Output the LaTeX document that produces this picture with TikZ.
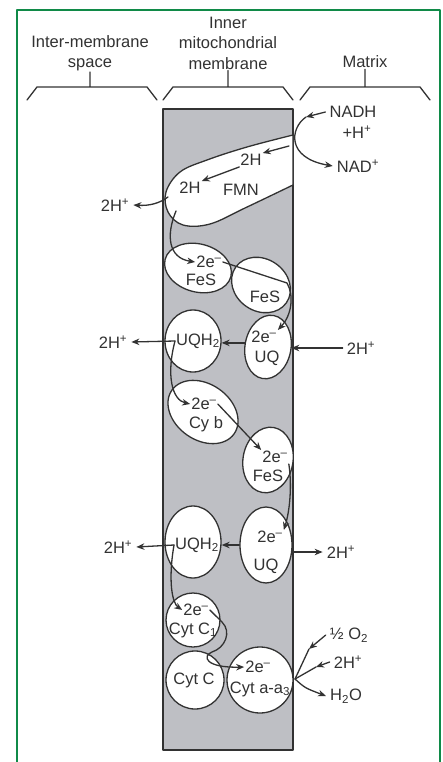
\documentclass[tikz,border=0pt]{standalone}
\usepackage{fontspec}
\setmainfont{Liberation Sans}
\usetikzlibrary{shapes.geometric,arrows.meta}
\definecolor{framegreen}{RGB}{16,138,72}
\definecolor{membgray}{RGB}{190,191,196}
\definecolor{ink}{RGB}{50,50,50}
\newcommand{\Hp}{H\textsuperscript{+}}
\newcommand{\ee}{2e\textsuperscript{--}}
\begin{document}
\begin{tikzpicture}[x=1pt,y=-1pt,>={Stealth[length=8pt,width=6.5pt]},line join=round,line cap=round,
	font=\fontsize{16.5}{20.5}\selectfont,
	every node/.style={text=ink,inner sep=1pt},
	wire/.style={draw=ink,line width=1.3pt},
	blob/.style={ellipse,draw=ink,fill=white,line width=1.3pt,inner sep=0pt},
	ion/.style={inner xsep=4pt}]
	\useasboundingbox (0,0) rectangle (442,762);
	\draw[framegreen,line width=2.2pt] (17,764) -- (17,10) -- (440,10) -- (440,764);
	% headings and brackets
	\node[align=center] (ims) at (90,53) {Inter-membrane\\space};
	\node[align=center] (imm) at (228,43) {Inner\\mitochondrial\\membrane};
	\node (mtx) at (365,62) {Matrix};
	\draw[wire] (27,100) -- (37,87) -- (147,87) -- (157,100) (ims.south |- 0,87) -- (ims.south);
	\draw[wire] (163,100) -- (173,87) -- (283,87) -- (293,100) (imm.south |- 0,87) -- (imm.south);
	\draw[wire] (300,100) -- (310,87) -- (420,87) -- (430,100) (mtx.south |- 0,87) -- (mtx.south);
	% membrane
	\filldraw[wire,fill=membgray] (163,109) rectangle (293,750);
	\filldraw[wire,fill=white] plot[smooth,tension=.6] coordinates {(293,135) (247,147) (207,160) (180,172) (166,192) (168,212) (183,225) (210,224) (245,208) (293,185)} -- cycle;
	\node[blob,minimum width=68,minimum height=48,rotate=-15] (fes1) at (198,268) {};
	\node[blob,minimum width=62,minimum height=52,rotate=-35] (fes2) at (261,285) {};
	\node[blob,minimum width=56,minimum height=62] (uqh1) at (193,341) {};
	\node[blob,minimum width=46,minimum height=64,rotate=-10] (uq1) at (268,347) {};
	\node[blob,minimum width=76,minimum height=56,rotate=-35] (cyb) at (203,412) {};
	\node[blob,minimum width=50,minimum height=66,rotate=-10] (fes3) at (268,460) {};
	\node[blob,minimum width=52,minimum height=76] (uq2) at (266,545) {};
	\node[blob,minimum width=56,minimum height=72] (uqh2) at (193,542) {};
	\node[blob,minimum size=54] (cytc1) at (193,620) {};
	\node[blob,minimum size=58] (cytc) at (195,680) {};
	\node[blob,minimum size=66] (cytaa) at (260,680) {};
	% texts
	\node (h2a) at (251,160) {2H};
	\node (h2b) at (190,188) {2H};
	\node (fmn) at (241,190) {FMN};
	\node[ion] (nadh) at (353,112) {NADH};
	\node (hp) at (357,132) {+\Hp};
	\node[ion] (nad) at (358,166) {NAD\textsuperscript{+}};
	\node[ion] (hl1) at (115,205) {2\Hp};
	\node (fes1e) at (209,262) {\ee};
	\node (fes1t) at (201,280) {FeS};
	\node (fes2t) at (265,297) {FeS};
	\node (uqh1t) at (198,341) {UQH\textsubscript{2}};
	\node (uq1e) at (264,337) {\ee};
	\node (uq1t) at (267,358) {UQ};
	\node[ion] (hl2) at (113,342) {2\Hp};
	\node[ion] (hr1) at (361,348) {2\Hp};
	\node (cybe) at (204,404) {\ee};
	\node (cybt) at (206,424) {Cy b};
	\node (fes3e) at (275,457) {\ee};
	\node (fes3t) at (268,476) {FeS};
	\node (uq2e) at (270,537) {\ee};
	\node (uq2t) at (266,566) {UQ};
	\node (uqh2t) at (197,545) {UQH\textsubscript{2}};
	\node[ion] (hl3) at (118,547) {2\Hp};
	\node[ion] (hr2) at (341,552) {2\Hp};
	\node (cytc1e) at (196,610) {\ee};
	\node (cytc1t) at (193,630) {Cyt C\textsubscript{1}};
	\node (cytct) at (194,680) {Cyt C};
	\node (aae) at (258,667) {\ee};
	\node (aat) at (260,689) {Cyt a-a\textsubscript{3}};
	\node[ion] (o2) at (349,635) {½ O\textsubscript{2}};
	\node[ion] (hr3) at (348,662) {2\Hp};
	\node[ion] (h2o) at (346,696) {H\textsubscript{2}O};
	% arrows
	\coordinate (n1) at (306,117);
	\draw[wire,->] (nadh.west) -- (n1);
	\draw[wire,->] (n1) .. controls (290,128) and (286,158) .. (nad.west);
	\draw[wire,->] (289,146) -- (h2a.north east);
	\draw[wire,->] (h2a.south west) -- (h2b.north east);
	\draw[wire,->] (168,197) .. controls (160,203) and (150,206) .. (hl1.east);
	\draw[wire,->] (176,211) .. controls (166,235) and (168,258) .. (fes1e.west);
	\draw[wire,->] (fes1e.east) -- (287,283) .. controls (294,295) and (292,315) .. (uq1e.north east);
	\draw[wire,->] (hr1.west) -- (uq1.east |- hr1.west);
	\draw[wire,->] (uq1.west) -- (uqh1.east |- uq1.west);
	\draw[wire,->] (uqh1t.west) -- (hl2.east);
	\draw[wire,->] (uqh1t.west) .. controls (166,375) and (172,400) .. (cybe.west);
	\draw[wire,->] (cybe.east) -- (fes3e.north west);
	\draw[wire,->] (fes3e.south east) .. controls (292,485) and (290,510) .. (uq2e.north east);
	\draw[wire,->] (uq2.west) -- (uqh2.east |- uq2.west);
	\draw[wire,->] (uqh2t.west) -- (hl3.east);
	\draw[wire,->] (uq2.east |- hr2.west) -- (hr2.west);
	\draw[wire,->] (uqh2t.west) .. controls (168,580) and (172,603) .. (cytc1e.west);
	\draw[wire,->] (cytc1e.east) -- (222,622) .. controls (232,632) and (225,648) .. (212,652) .. controls (202,656) and (205,668) .. (aae.west);
	\coordinate (cc) at (295,679);
	\coordinate (o2m) at (309,649);
	\coordinate (hm) at (316,667);
	\draw[wire,->] (o2.west) -- (o2m);
	\draw[wire] (o2m) -- (cc);
	\draw[wire,->] (hr3.west) -- (hm);
	\draw[wire] (hm) -- (cc);
	\draw[wire,->] (cc) .. controls (305,688) .. (h2o.west);
\end{tikzpicture}
\end{document}
